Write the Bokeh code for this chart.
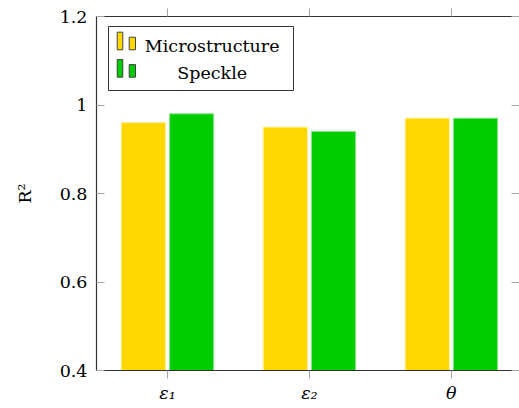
from bokeh.plotting import figure
from bokeh.models import Range1d, FixedTicker, LinearAxis, BoxAnnotation, Label
from bokeh.embed import file_html
from bokeh.resources import INLINE

categories = ["ε₁", "ε₂", "θ"]
microstructure = [0.96, 0.95, 0.97]
speckle = [0.98, 0.94, 0.97]
y_ticks = [0.4, 0.6, 0.8, 1.0, 1.2]
y_tick_labels = ["0.4", "0.6", "0.8", "1", "1.2"]
series_names = ["Microstructure", "Speckle"]

YELLOW = "#FFD700"
YELLOW_EDGE = "#FFEC80"
GREEN = "#00CC00"
GREEN_EDGE = "#80E680"
FONT = "DejaVu Serif"
FS = "17.5px"
TICK = "#a6a6a6"
AXIS = "#333333"

W, H = 519, 408
L, R, T, B = 96, 0, 16, 38
XMIN, XMAX = 0.5, 3.48
YMIN, YMAX = 0.4, 1.2

p = figure(width=W, height=H, output_backend="svg", toolbar_location=None,
           x_range=Range1d(XMIN, XMAX), y_range=Range1d(YMIN, YMAX),
           min_border_left=L, min_border_right=R, min_border_top=T, min_border_bottom=B,
           tools="")
p.outline_line_color = None
p.xgrid.visible = False
p.ygrid.visible = False
p.background_fill_color = "white"
p.border_fill_color = "white"

xs = list(range(1, len(categories) + 1))
off, bw = 0.17, 0.31
p.vbar(x=[x - off for x in xs], top=microstructure, bottom=0, width=bw,
       fill_color=YELLOW, line_color=YELLOW_EDGE, line_width=1)
p.vbar(x=[x + off for x in xs], top=speckle, bottom=0, width=bw,
       fill_color=GREEN, line_color=GREEN_EDGE, line_width=1)

# bottom axis
xa = p.xaxis[0]
xa.ticker = FixedTicker(ticks=xs)
xa.major_label_overrides = {x: c for x, c in zip(xs, categories)}
xa.major_tick_in = 0
xa.major_tick_out = 8
xa.minor_tick_line_color = None
xa.major_tick_line_color = TICK
xa.axis_line_color = AXIS
xa.axis_line_width = 1.2
xa.major_label_text_font = FONT
xa.major_label_text_font_size = FS
xa.major_label_text_font_style = "italic"
xa.major_label_text_color = "black"
xa.major_label_standoff = 4

# left axis
ya = p.yaxis[0]
ya.ticker = FixedTicker(ticks=y_ticks)
ya.major_label_overrides = {t: s for t, s in zip(y_ticks, y_tick_labels)}
ya.major_tick_in = 8
ya.major_tick_out = 0
ya.minor_tick_line_color = None
ya.major_tick_line_color = TICK
ya.axis_line_color = AXIS
ya.axis_line_width = 1.2
ya.major_label_text_font = FONT
ya.major_label_text_font_size = FS
ya.major_label_text_color = "black"
ya.major_label_standoff = 9
ya.axis_label = "R²"
ya.axis_label_text_font = FONT
ya.axis_label_text_font_size = FS
ya.axis_label_text_font_style = "normal"
ya.axis_label_text_color = "black"
ya.axis_label_standoff = 22

# top axis (ticks outward, no labels)
top = LinearAxis(ticker=FixedTicker(ticks=xs), major_tick_in=0, major_tick_out=8,
                 minor_tick_line_color=None, major_tick_line_color=TICK,
                 axis_line_color=AXIS, axis_line_width=1.2,
                 major_label_text_color=None,
                 major_label_text_font_size="0px", major_label_standoff=0)
p.add_layout(top, "above")

# right axis (ticks inward, no line, no labels)
right = LinearAxis(ticker=FixedTicker(ticks=y_ticks), major_tick_in=8, major_tick_out=0,
                   minor_tick_line_color=None, major_tick_line_color=TICK,
                   axis_line_color=None, major_label_text_color=None,
                   major_label_text_font_size="0px", major_label_standoff=0)
p.add_layout(right, "right")

# legend drawn in data coordinates converted from pixel layout
fw = W - L - R
fh = H - T - B
def dx(px):
    return XMIN + (px - L) / fw * (XMAX - XMIN)
def dy(py):
    return YMIN + (H - B - py) / fh * (YMAX - YMIN)

p.add_layout(BoxAnnotation(left=dx(108), right=dx(293), top=dy(26), bottom=dy(90),
                           fill_color="white", fill_alpha=1, line_color=AXIS,
                           line_width=1, line_alpha=1))
for c, base in [(YELLOW, 49.3), (GREEN, 76.7)]:
    p.add_layout(BoxAnnotation(left=dx(116.7), right=dx(122.3), top=dy(base - 17.6),
                               bottom=dy(base), fill_color=c, fill_alpha=1,
                               line_color="#444444", line_width=1, line_alpha=1))
    p.add_layout(BoxAnnotation(left=dx(128.7), right=dx(135), top=dy(base - 12.6),
                               bottom=dy(base), fill_color=c, fill_alpha=1,
                               line_color="#444444", line_width=1, line_alpha=1))
for name, base in zip(series_names, [49.3, 76.7]):
    p.add_layout(Label(x=dx(211.7), y=dy(base - 4), text=name, text_align="center",
                       text_baseline="alphabetic", text_font=FONT, text_font_size=FS,
                       text_color="black"))

open("out.html", "w").write(file_html(p, INLINE))
